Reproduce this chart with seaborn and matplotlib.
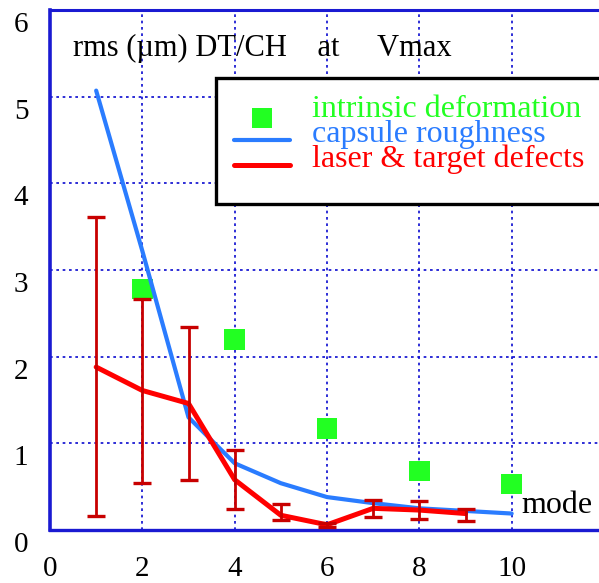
import numpy as np
import pandas as pd
import matplotlib
matplotlib.use("Agg")
import matplotlib.pyplot as plt
import seaborn as sns
from matplotlib.patches import Rectangle
from matplotlib.transforms import ScaledTranslation, Affine2D

# ---- data ----
modes_blue = [1, 2, 3, 4, 5, 6, 7, 8, 9, 10]
capsule_roughness = [5.07, 3.22, 1.30, 0.77, 0.54, 0.38, 0.31, 0.25, 0.22, 0.19]

modes_red = [1, 2, 3, 4, 5, 6, 7, 8, 9]
laser_defects = [1.88, 1.61, 1.46, 0.58, 0.17, 0.06, 0.25, 0.23, 0.19]
laser_err_low = [0.16, 0.54, 0.58, 0.24, 0.12, 0.04, 0.15, 0.13, 0.10]
laser_err_high = [3.61, 2.66, 2.34, 0.92, 0.30, 0.08, 0.35, 0.34, 0.24]

modes_green = [2, 4, 6, 8, 10]
intrinsic_deformation = [2.78, 2.20, 1.17, 0.68, 0.53]

x_ticks = [0, 2, 4, 6, 8, 10]
y_ticks = [0, 1, 2, 3, 4, 5, 6]

title_text = "rms (\u00b5m) DT/CH    at     Vmax"
x_label_text = "mode"
labels = ["intrinsic deformation", "capsule roughness", "laser & target defects"]

# ---- style ----
sns.set_theme(style="white")
plt.rcParams['font.family'] = ['Liberation Serif', 'DejaVu Serif']

W, H = 599, 583
fig = plt.figure(figsize=(W / 100, H / 100), dpi=100)
ax = fig.add_axes([50 / W, 1 - 530 / H, 554 / W, 520 / H])

axis_blue = "#1a1ad2"
grid_blue = "#0a0ad0"
line_blue = "#2a7cff"
green = "#22ff22"
red = "#ff0000"
dark_red = "#c80000"

df_blue = pd.DataFrame({"mode": modes_blue, "rms": capsule_roughness})
df_red = pd.DataFrame({"mode": modes_red, "rms": laser_defects,
                       "lo": laser_err_low, "hi": laser_err_high})
df_green = pd.DataFrame({"mode": modes_green, "rms": intrinsic_deformation})

sns.scatterplot(data=df_green, x="mode", y="rms", ax=ax, marker="s", s=225,
                color=green, edgecolor="none", linewidth=0, zorder=3,
                label=labels[0], legend=False)
sns.lineplot(data=df_blue, x="mode", y="rms", ax=ax, color=line_blue, lw=3.0,
             zorder=4, label=labels[1], legend=False, sort=False)
sns.lineplot(data=df_red, x="mode", y="rms", ax=ax, color=red, lw=3.6,
             zorder=5, label=labels[2], legend=False, sort=False)
yerr = np.vstack([df_red["rms"] - df_red["lo"], df_red["hi"] - df_red["rms"]])
ax.errorbar(df_red["mode"], df_red["rms"], yerr=yerr, fmt="none",
            ecolor=dark_red, elinewidth=2.0, capsize=6.5, capthick=2.4, zorder=6)

ax.set_xlim(0, 12)
ax.set_ylim(0, 6)
ax.set_xticks(x_ticks)
ax.set_yticks(y_ticks)
ax.set_xlabel("")
ax.set_ylabel("")

ax.grid(True, color=grid_blue, linestyle=(0, (1.6, 2.2)), linewidth=1.2, zorder=0)
ax.set_axisbelow(True)
for side in ["left", "bottom", "top"]:
    ax.spines[side].set_visible(True)
    ax.spines[side].set_color(axis_blue)
ax.spines["left"].set_linewidth(2.6)
ax.spines["bottom"].set_linewidth(2.4)
ax.spines["top"].set_linewidth(2.2)
ax.spines["right"].set_visible(False)

ax.tick_params(axis="y", direction="out", length=6, width=1.4, color=axis_blue,
               labelsize=21, pad=9.5)
ax.tick_params(axis="x", direction="out", length=0, labelsize=21, pad=19)
ylab_shift = ScaledTranslation(0, -12 / 100, fig.dpi_scale_trans)
for t in ax.get_yticklabels():
    t.set_transform(t.get_transform() + ylab_shift)
    t.set_color("black")
for t in ax.get_xticklabels():
    t.set_color("black")

# title and axis label inside plot
ax.text(0.50, 5.47, title_text, fontsize=22, color="black", va="baseline", ha="left")
ax.text(10.22, 0.196, x_label_text, fontsize=23, color="black", va="baseline", ha="left")

# legend box
fig.patches.append(Rectangle((216 / W, 1 - 204 / H), 400 / W, 126 / H,
                             transform=fig.transFigure, facecolor="white",
                             edgecolor="black", linewidth=2.4, zorder=10))
handles, lbls = ax.get_legend_handles_labels()
leg = fig.legend(handles, lbls, loc="upper left",
                 bbox_to_anchor=(234 / W, 1 - 104 / H), bbox_transform=fig.transFigure,
                 frameon=False, fontsize=23, borderpad=0, borderaxespad=0,
                 handlelength=1.75, handletextpad=0.69, labelspacing=-0.14,
                 markerscale=1.0)
leg.set_zorder(11)
text_up = Affine2D().translate(0, 9)
for txt, c in zip(leg.get_texts(), [green, line_blue, red]):
    txt.set_color(c)
    txt.set_transform(txt.get_transform() + text_up)

fig.savefig("out.png", dpi=100)
